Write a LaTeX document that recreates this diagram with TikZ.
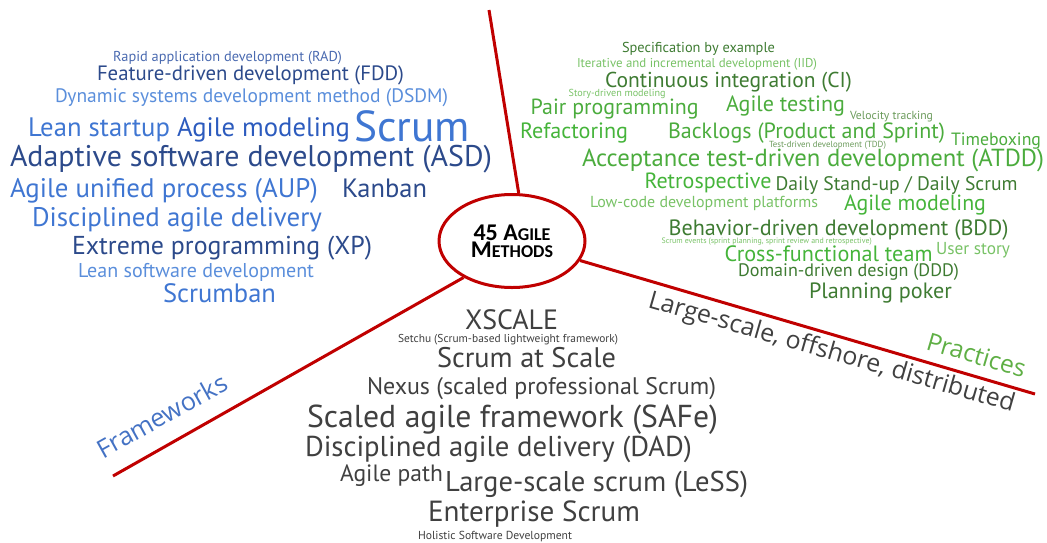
\documentclass[tikz,border=0pt]{standalone}
\usepackage{fontspec}
\setmainfont{PT Sans}
\newfontfamily\labelfont{Open Sans}
\newfontfamily\hubfont{Carlito}
\usetikzlibrary{shapes.geometric}

% set #2 at the font size that makes it #1 pt wide
\newcommand\fitw[2]{%
  \setbox0=\hbox{\fontsize{10pt}{12pt}\selectfont #2}%
  \pgfmathsetmacro\wcfs{10*#1/\the\wd0}%
  \fontsize{\wcfs pt}{\wcfs pt}\selectfont #2}

\definecolor{lineRed}{HTML}{C00000}
\definecolor{bNavy}{HTML}{2C4A8B}
\definecolor{bRoyal}{HTML}{2C5BBE}
\definecolor{bMid}{HTML}{3F76D2}
\definecolor{bLight}{HTML}{5A8EDB}
\definecolor{bMuted}{HTML}{4A6AB0}
\definecolor{gDark}{HTML}{3E7B32}
\definecolor{gMid}{HTML}{4BAC3D}
\definecolor{gBright}{HTML}{45B43A}
\definecolor{gLight}{HTML}{78C266}
\definecolor{gGray}{HTML}{6A9A5A}
\definecolor{txtGray}{HTML}{404040}
\definecolor{fwBlue}{HTML}{4472C4}
\definecolor{prGreen}{HTML}{5FAF45}

\begin{document}
\begin{tikzpicture}[x=1pt,y=1pt,
  wc/.style={anchor=base west, inner sep=0pt, outer sep=0pt},
  spoke/.style={draw=lineRed, line width=3pt},
  hub/.style={ellipse, draw=lineRed, line width=3pt, fill=white,
    minimum width=146pt, minimum height=93pt, inner sep=0pt,
    align=center, font=\hubfont\bfseries, text=black},
  axis/.style={anchor=base west, inner sep=0pt, outer sep=0pt, font=\labelfont}]
\useasboundingbox (0,0) rectangle (1047,-542);

% spokes
\coordinate (topEnd) at (489,-10);
\coordinate (leftEnd) at (113,-476);
\coordinate (rightEnd) at (1035,-394);
\node[hub] (hub) at (512,-241)
  {\fontsize{24}{26}\selectfont 45 A{\fontsize{18}{18}\selectfont GILE}\\
   \fontsize{24}{26}\selectfont M{\fontsize{18}{18}\selectfont ETHODS}};
\draw[spoke] (topEnd) -- (hub.82);
\draw[spoke] (leftEnd) -- (hub.217);
\draw[spoke] (rightEnd) -- (hub.-16);

% sector labels
\node[axis, rotate=29, text=fwBlue] (fw) at (103,-459) {\fitw{145}{Frameworks}};
\node[axis, rotate=-16.5, text=prGreen] (pr) at (925,-349) {\fitw{102}{Practices}};
\node[axis, rotate=-16, text=txtGray] (ls) at (647,-307) {\fitw{380}{Large-scale, offshore, distributed}};

% methods
\node[wc, text=bMuted] (rad) at (113,-61.5) {\fitw{229}{Rapid application development (RAD)}};
\node[wc, text=bNavy] (fdd) at (97,-80.3) {\fitw{307}{Feature-driven development (FDD)}};
\node[wc, text=bLight] (dsdm) at (55,-102.5) {\fitw{393}{Dynamic systems development method (DSDM)}};
\node[wc, text=bMid] (lean) at (28,-136.5) {\fitw{142}{Lean startup}};
\node[wc, text=bRoyal] (am) at (177,-136.5) {\fitw{173}{Agile modeling}};
\node[wc, text=bMid] (scrum) at (354,-141) {\fitw{116}{Scrum}};
\node[wc, text=bNavy] (asd) at (10,-166.5) {\fitw{482}{Adaptive software development (ASD)}};
\node[wc, text=bMid] (aup) at (10,-197.5) {\fitw{308}{Agile unified process (AUP)}};
\node[wc, text=bNavy] (kanban) at (342,-197) {\fitw{85}{Kanban}};
\node[wc, text=bMid] (dad1) at (32,-226) {\fitw{290}{Disciplined agile delivery}};
\node[wc, text=bNavy] (xp) at (72,-254.5) {\fitw{300}{Extreme programming (XP)}};
\node[wc, text=bLight] (lsd) at (78,-277.5) {\fitw{236}{Lean software development}};
\node[wc, text=bMid] (scrumban) at (163,-302) {\fitw{113}{Scrumban}};

% practices
\node[wc, text=gDark] (sbe) at (622,-52) {\fitw{153}{Specification by example}};
\node[wc, text=gLight] (iid) at (577,-67) {\fitw{240}{Iterative and incremental development (IID)}};
\node[wc, text=gDark] (ci) at (605,-87.5) {\fitw{247}{Continuous integration (CI)}};
\node[wc, text=gLight] (sdm) at (568.6,-96.6) {\fitw{97}{Story-driven modeling}};
\node[wc, text=gMid] (pp) at (530.7,-114.5) {\fitw{168}{Pair programming}};
\node[wc, text=gMid] (at) at (726,-111) {\fitw{119}{Agile testing}};
\node[wc, text=gGray] (vt) at (850,-119.5) {\fitw{83}{Velocity tracking}};
\node[wc, text=gBright] (ref) at (520,-138.5) {\fitw{108}{Refactoring}};
\node[wc, text=gMid] (bl) at (668,-138.5) {\fitw{277}{Backlogs (Product and Sprint)}};
\node[wc, text=gMid] (tb) at (951,-145) {\fitw{90}{Timeboxing}};
\node[wc, text=gGray] (tdd) at (769,-147) {\fitw{117}{Test-driven development (TDD)}};
\node[wc, text=gMid] (atdd) at (582,-166.5) {\fitw{462}{Acceptance test-driven development (ATDD)}};
\node[wc, text=gBright] (retro) at (644.5,-188.3) {\fitw{127}{Retrospective}};
\node[wc, text=gDark] (daily) at (775.5,-190) {\fitw{242}{Daily Stand-up / Daily Scrum}};
\node[wc, text=gLight] (lcdp) at (590,-207.2) {\fitw{228}{Low-code development platforms}};
\node[wc, text=gBright] (am2) at (844,-210.7) {\fitw{142}{Agile modeling}};
\node[wc, text=gDark] (bdd) at (668.6,-235.5) {\fitw{340}{Behavior-driven development (BDD)}};
\node[wc, text=gLight] (se) at (661.7,-243.4) {\fitw{210}{Scrum events (sprint planning, sprint review and retrospective)}};
\node[wc, text=gBright] (cft) at (724.5,-261) {\fitw{208}{Cross-functional team}};
\node[wc, text=gLight] (us) at (936,-254) {\fitw{74}{User story}};
\node[wc, text=gDark] (ddd) at (738,-276) {\fitw{221}{Domain-driven design (DDD)}};
\node[wc, text=gDark] (poker) at (809,-298) {\fitw{143}{Planning poker}};

% frameworks
\node[wc, text=txtGray] (xscale) at (465,-329.3) {\fitw{93}{XSCALE}};
\node[wc, text=txtGray] (setchu) at (398,-342.3) {\fitw{220}{Setchu (Scrum-based lightweight framework)}};
\node[wc, text=txtGray] (sas) at (437,-367.5) {\fitw{179}{Scrum at Scale}};
\node[wc, text=txtGray] (nexus) at (367,-394.5) {\fitw{349}{Nexus (scaled professional Scrum)}};
\node[wc, text=txtGray] (safe) at (307,-427) {\fitw{411}{Scaled agile framework (SAFe)}};
\node[wc, text=txtGray] (dad) at (305,-456) {\fitw{387}{Disciplined agile delivery (DAD)}};
\node[wc, text=txtGray] (ap) at (340,-481) {\fitw{103}{Agile path}};
\node[wc, text=txtGray] (less) at (445,-491.5) {\fitw{303}{Large-scale scrum (LeSS)}};
\node[wc, text=txtGray] (es) at (428,-521) {\fitw{212}{Enterprise Scrum}};
\node[wc, text=txtGray] (hsd) at (418,-539) {\fitw{154}{Holistic Software Development}};
\end{tikzpicture}
\end{document}
